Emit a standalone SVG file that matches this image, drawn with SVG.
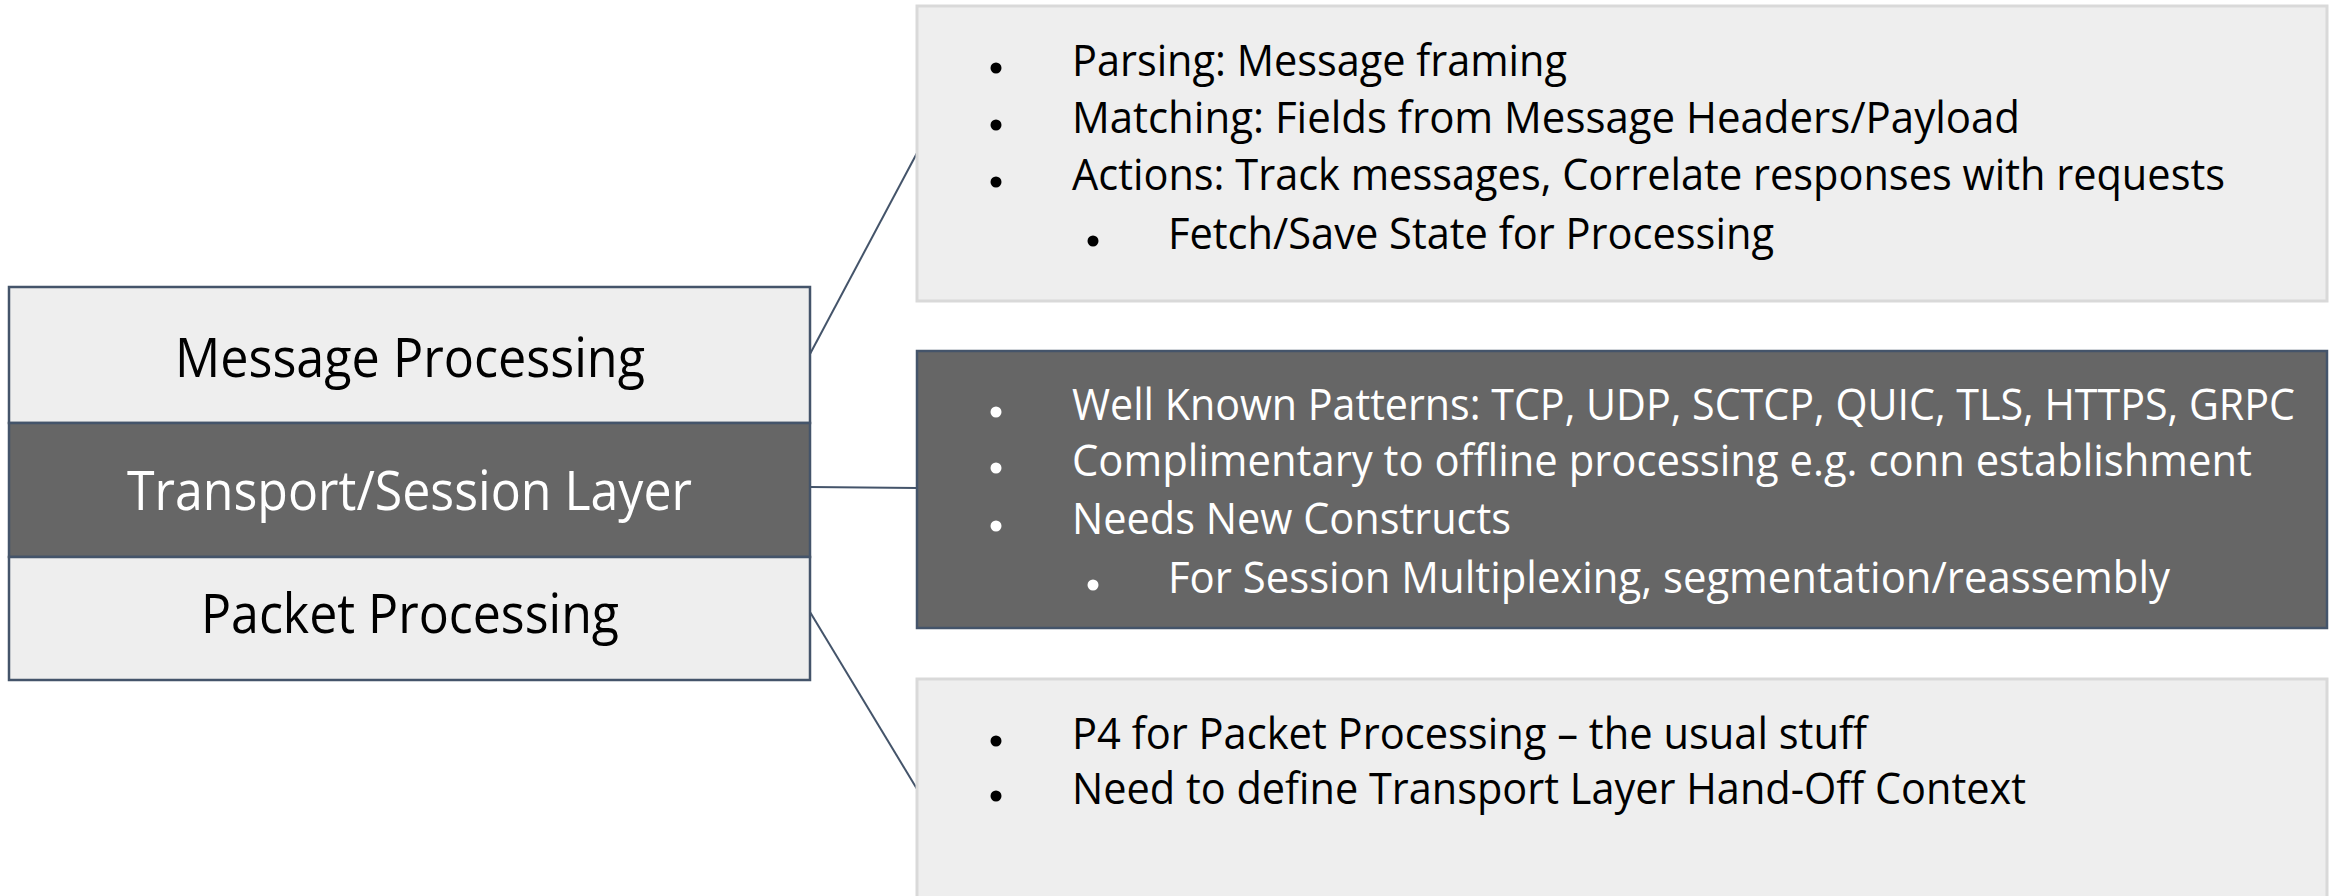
<svg xmlns="http://www.w3.org/2000/svg" width="2334" height="896" viewBox="0 0 2334 896">
<style>
  .light { fill: #EEEEEE; stroke: #D9D9D9; stroke-width: 3; }
  .lightL { fill: #EEEEEE; stroke: #44546A; stroke-width: 2.5; }
  .dark { fill: #666666; stroke: #44546A; stroke-width: 2.5; }
  .conn { stroke: #44546A; stroke-width: 2; fill: none; }
  .big { font-family: "Open Sans", "Noto Sans", sans-serif; font-size: 55px; }
  .txt { font-family: "Open Sans", "Noto Sans", sans-serif; font-size: 44px; }
  .blk { fill: #000000; }
  .wht { fill: #FFFFFF; }
</style>
<rect width="2334" height="896" fill="#FFFFFF"/>

<g id="connectors">
  <line class="conn" x1="810" y1="354" x2="917" y2="153"/>
  <line class="conn" x1="810" y1="487" x2="917" y2="488"/>
  <line class="conn" x1="810" y1="612" x2="917" y2="789"/>
</g>

<g id="message-processing">
  <rect class="lightL" x="9" y="287" width="801" height="136"/>
  <text class="big blk" x="175" y="377" textLength="470" lengthAdjust="spacingAndGlyphs">Message Processing</text>
</g>
<g id="transport-session-layer">
  <rect class="dark" x="9" y="423" width="801" height="134"/>
  <text class="big wht" x="127" y="510" textLength="565" lengthAdjust="spacingAndGlyphs">Transport/Session Layer</text>
</g>
<g id="packet-processing">
  <rect class="lightL" x="9" y="557" width="801" height="123"/>
  <text class="big blk" x="201" y="633" textLength="418" lengthAdjust="spacingAndGlyphs">Packet Processing</text>
</g>

<g id="message-details">
  <rect class="light" x="917" y="6" width="1410" height="295"/>
  <circle cx="996" cy="68" r="5.5" fill="#000"/>
  <text class="txt blk" x="1072" y="76" textLength="495" lengthAdjust="spacingAndGlyphs">Parsing: Message framing</text>
  <circle cx="996" cy="125" r="5.5" fill="#000"/>
  <text class="txt blk" x="1072" y="133" textLength="948" lengthAdjust="spacingAndGlyphs">Matching: Fields from Message Headers/Payload</text>
  <circle cx="996" cy="182" r="5.5" fill="#000"/>
  <text class="txt blk" x="1072" y="190" textLength="1153" lengthAdjust="spacingAndGlyphs">Actions: Track messages, Correlate responses with requests</text>
  <circle cx="1093" cy="241" r="5.5" fill="#000"/>
  <text class="txt blk" x="1168" y="249" textLength="606" lengthAdjust="spacingAndGlyphs">Fetch/Save State for Processing</text>
</g>

<g id="transport-details">
  <rect class="dark" x="917" y="351" width="1410" height="277"/>
  <circle cx="996" cy="412" r="5.5" fill="#FFF"/>
  <text class="txt wht" x="1072" y="420" textLength="1223" lengthAdjust="spacingAndGlyphs">Well Known Patterns: TCP, UDP, SCTCP, QUIC, TLS, HTTPS, GRPC</text>
  <circle cx="996" cy="468" r="5.5" fill="#FFF"/>
  <text class="txt wht" x="1072" y="476" textLength="1180" lengthAdjust="spacingAndGlyphs">Complimentary to offline processing e.g. conn establishment</text>
  <circle cx="996" cy="526" r="5.5" fill="#FFF"/>
  <text class="txt wht" x="1072" y="534" textLength="439" lengthAdjust="spacingAndGlyphs">Needs New Constructs</text>
  <circle cx="1093" cy="585" r="5.5" fill="#FFF"/>
  <text class="txt wht" x="1168" y="593" textLength="1002" lengthAdjust="spacingAndGlyphs">For Session Multiplexing, segmentation/reassembly</text>
</g>

<g id="packet-details">
  <rect class="light" x="917" y="679" width="1410" height="230"/>
  <circle cx="996" cy="741" r="5.5" fill="#000"/>
  <text class="txt blk" x="1072" y="749" textLength="795" lengthAdjust="spacingAndGlyphs">P4 for Packet Processing – the usual stuff</text>
  <circle cx="996" cy="796" r="5.5" fill="#000"/>
  <text class="txt blk" x="1072" y="804" textLength="954" lengthAdjust="spacingAndGlyphs">Need to define Transport Layer Hand-Off Context</text>
</g>
</svg>
